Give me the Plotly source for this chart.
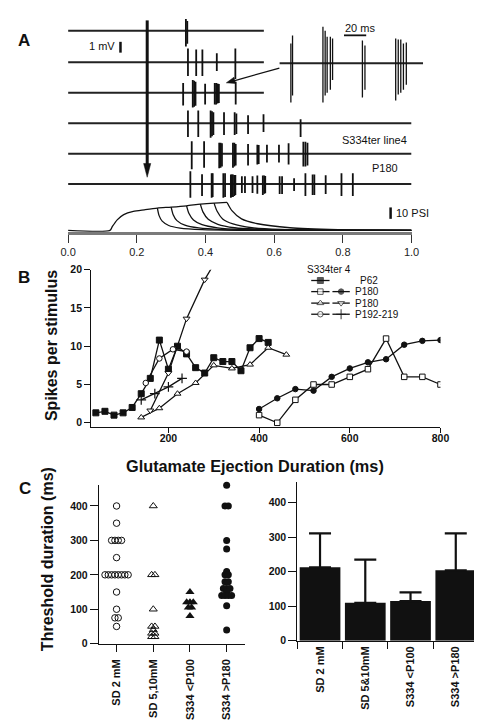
import plotly.graph_objects as go

W, H = 482, 722
FONT = "Liberation Sans, Arial, Helvetica, sans-serif"

# ---------------- Panel A data (time in s, amplitudes in mV) ----------------
rec_end_s = [0.57, 0.57, 0.57, 1.0, 1.0, 1.0]
rec1_t = [0.343, 0.347]
rec1_up = [1.09, 0.9]
rec1_dn = [1.45, 1.2]
rec2_t = [0.349, 0.373, 0.391, 0.433, 0.487]
rec2_up = [1.27, 1.18, 1.18, 0.82, 1.27]
rec2_dn = [1.27, 1.27, 1.27, 0.82, 1.55]
rec3_t = [0.335, 0.363, 0.367, 0.371, 0.399, 0.427, 0.431, 0.435, 0.439, 0.488]
rec3_up = [0.9, 1.18, 1.1, 1.0, 0.82, 0.9, 0.9, 0.85, 0.8, 1.0]
rec3_dn = [1.18, 1.36, 1.3, 1.2, 1.09, 1.09, 1.09, 1.0, 0.95, 1.09]
rec4_t = [0.349, 0.379, 0.415, 0.419, 0.423, 0.454, 0.485, 0.490, 0.524, 0.569, 0.677]
rec4_up = [1.18, 1.18, 1.18, 1.1, 1.0, 1.0, 1.0, 0.9, 0.73, 0.82, 0.36]
rec4_dn = [1.27, 1.27, 1.36, 1.2, 1.1, 1.09, 1.09, 1.0, 1.0, 0.82, 1.27]
rec5_t = [0.360, 0.396, 0.440, 0.444, 0.448, 0.480, 0.484, 0.488, 0.524, 0.551,
          0.555, 0.579, 0.614, 0.642, 0.685, 0.691, 0.697]
rec5_up = [1.14, 1.14, 1.0, 1.0, 0.95, 1.0, 1.0, 0.9, 0.9, 0.82, 0.8, 0.82, 0.82,
           0.95, 1.09, 1.09, 1.0]
rec5_dn = [1.45, 1.3, 1.36, 1.3, 1.2, 1.3, 1.2, 1.1, 1.09, 1.0, 0.95, 0.82, 0.82,
           1.0, 1.18, 1.18, 1.1]
rec6_t = [0.356, 0.390, 0.418, 0.421, 0.452, 0.457, 0.474, 0.477, 0.480, 0.484,
          0.487, 0.506, 0.515, 0.537, 0.551, 0.567, 0.571, 0.574, 0.616, 0.623,
          0.658, 0.691, 0.712, 0.717, 0.750, 0.796, 0.829]
rec6_up = [1.18, 0.91, 1.0, 1.0, 1.0, 1.0, 0.9, 0.9, 0.9, 0.85, 0.85, 0.73, 0.73,
           0.73, 0.8, 0.8, 0.8, 0.75, 0.73, 0.73, 0.55, 1.0, 0.9, 0.9, 0.82, 1.0, 1.0]
rec6_dn = [1.27, 1.09, 1.27, 1.2, 1.27, 1.2, 1.27, 1.2, 1.2, 1.1, 1.0, 0.82, 0.82,
           0.82, 0.9, 1.0, 0.9, 0.85, 0.91, 0.91, 0.64, 1.09, 1.0, 1.0, 0.91, 1.09, 1.09]

# inset (time in ms)
inset_len_ms = 130
inset_t = [10.4, 11.9, 39.4, 41.4, 43.2, 46.1, 48.1, 75.1, 77.4,
           105.2, 107.5, 109.8, 112.2, 114.8]
inset_up = [1.82, 2.55, 3.36, 3.0, 2.45, 2.45, 2.27, 2.09, 1.64,
            2.27, 2.18, 2.18, 1.82, 1.9]
inset_dn = [3.64, 3.0, 3.64, 3.0, 2.73, 2.45, 1.55, 3.18, 2.45,
            3.45, 2.9, 2.73, 2.45, 2.0]

# pressure ejection (PSI)
press_rise_t = [0.0, 0.122, 0.129, 0.143, 0.162, 0.19, 0.222, 0.26, 0.30, 0.345, 0.385, 0.425, 0.463]
press_rise_psi = [0, 0, 3.6, 9.7, 14.5, 17.5, 19.0, 20.6, 21.5, 22.7, 24.2, 25.2, 25.8]
decay1_t = [0.26, 0.265, 0.274, 0.293, 0.326, 0.39, 0.5, 1.0]
decay1_psi = [20.6, 13.6, 8.5, 4.5, 2.1, 0.6, 0.1, 0]
decay2_t = [0.30, 0.306, 0.317, 0.34, 0.38, 0.45, 0.56, 1.0]
decay2_psi = [21.5, 14.5, 9.0, 4.8, 2.2, 0.7, 0.1, 0]
decay3_t = [0.345, 0.352, 0.365, 0.39, 0.435, 0.51, 0.63, 1.0]
decay3_psi = [22.7, 15.5, 9.6, 5.2, 2.3, 0.7, 0.1, 0]
decay4_t = [0.385, 0.393, 0.408, 0.436, 0.485, 0.565, 0.69, 1.0]
decay4_psi = [24.2, 16.8, 10.2, 5.6, 2.4, 0.8, 0.15, 0]
decay5_t = [0.425, 0.434, 0.45, 0.48, 0.535, 0.62, 0.75, 1.0]
decay5_psi = [25.2, 17.6, 10.5, 5.9, 2.4, 0.8, 0.15, 0]
decay6_t = [0.463, 0.477, 0.505, 0.552, 0.646, 0.786, 0.9, 1.0]
decay6_psi = [25.8, 18.2, 10.6, 6.1, 2.4, 0.6, 0.1, 0]
a_ticks = [0.0, 0.2, 0.4, 0.6, 0.8, 1.0]
a_ticktext = ["0.0", "0.2", "0.4", "0.6", "0.8", "1.0"]

# ---------------- Panel B data ----------------
p62_x = [40, 60, 80, 100, 120, 140, 160, 180, 200, 220, 240, 260, 280, 300, 320, 340, 360, 380, 400, 420]
p62_y = [1.3, 1.5, 1.0, 1.3, 2.0, 3.8, 5.8, 10.8, 7.0, 10.0, 9.0, 7.2, 6.5, 8.5, 8.0, 8.0, 6.8, 9.8, 11.0, 10.5]
p180a_open_x = [400, 440, 480, 520, 560, 600, 640, 680, 720, 760, 800]
p180a_open_y = [1.0, 0.0, 3.0, 5.0, 5.0, 6.0, 7.0, 11.0, 6.0, 6.0, 5.0]
p180a_fill_x = [400, 440, 480, 520, 560, 600, 640, 680, 720, 760, 800]
p180a_fill_y = [1.8, 3.2, 4.4, 4.2, 6.0, 7.1, 7.9, 8.3, 10.2, 10.7, 10.8]
p180b_up_x = [140, 180, 220, 260, 300, 340, 380, 420, 460]
p180b_up_y = [0.7, 1.9, 3.8, 5.2, 7.5, 7.1, 7.6, 9.8, 8.9]
p180b_dn_x = [160, 200, 240, 280, 320]
p180b_dn_y = [1.6, 6.5, 13.6, 18.7, 22.7]
p192_circ_x = [150, 180, 210, 240]
p192_circ_y = [5.2, 8.4, 9.6, 9.3]
p192_plus_x = [140, 170, 200, 230]
p192_plus_y = [3.0, 3.8, 4.7, 5.8]
b_xticks = [200, 400, 600, 800]
b_yticks = [0, 5, 10, 15, 20]

# ---------------- Panel C data ----------------
c_groups = ["SD 2 mM", "SD 5,10mM", "S334 &lt;P100", "S334 &gt;P180"]
sd2_vals = [400, 350, 300, 300, 300, 300, 250, 200, 200, 200, 200, 200, 200, 200, 200, 150, 100, 75, 75, 50]
sd510_vals = [400, 200, 200, 100, 50, 50, 40, 30, 30, 20, 20]
s334_young_vals = [150, 120, 120, 120, 105, 105, 80]
s334_old_vals = [460, 400, 400, 300, 275, 210, 200, 200, 180, 180, 160, 160, 160, 150,
                 140, 140, 140, 140, 110, 40]
bar_groups = ["SD 2 mM", "SD 5&amp;10mM", "S334 &lt;P100", "S334 &gt;P180"]
bar_mean = [213, 110, 115, 204]
bar_sd = [98, 125, 25, 107]
c_yticks = [0, 100, 200, 300, 400]

# ---------------- helpers ----------------
def px_x(p):
    return p / W

def px_y(p):
    return 1 - p / H

MV_PER_PX = 1 / 11.0
A_BOTTOM = 221.5
row_px = [17, 49, 80, 111, 142, 173]
row_offsets = [(A_BOTTOM - r) * MV_PER_PX for r in row_px]
inset_offset = (A_BOTTOM - 50) * MV_PER_PX

def recording(ts, ups, dns, offset, t_end):
    bx = [0, t_end]
    by = [offset, offset]
    sx, sy = [], []
    for t, u, d in zip(ts, ups, dns):
        sx += [t, t, None]
        sy += [offset - d, offset + u, None]
    return bx, by, sx, sy

fig = go.Figure()
ink = "#111111"

recs = [(rec1_t, rec1_up, rec1_dn), (rec2_t, rec2_up, rec2_dn), (rec3_t, rec3_up, rec3_dn),
        (rec4_t, rec4_up, rec4_dn), (rec5_t, rec5_up, rec5_dn), (rec6_t, rec6_up, rec6_dn)]
for (ts, ups, dns), off, te in zip(recs, row_offsets, rec_end_s):
    bx, by, sx, sy = recording(ts, ups, dns, off, te)
    fig.add_trace(go.Scatter(x=bx, y=by, mode="lines", line=dict(color="#222", width=2),
                             xaxis="x", yaxis="y", hoverinfo="skip", showlegend=False))
    fig.add_trace(go.Scatter(x=sx, y=sy, mode="lines", line=dict(color=ink, width=1.8),
                             xaxis="x", yaxis="y", hoverinfo="skip", showlegend=False))

bx, by, sx, sy = recording(inset_t, inset_up, inset_dn, inset_offset, inset_len_ms)
fig.add_trace(go.Scatter(x=bx, y=by, mode="lines", line=dict(color="#222", width=2),
                         xaxis="x2", yaxis="y", hoverinfo="skip", showlegend=False))
fig.add_trace(go.Scatter(x=sx, y=sy, mode="lines", line=dict(color=ink, width=1.3),
                         xaxis="x2", yaxis="y", hoverinfo="skip", showlegend=False))

for tx, py in [(press_rise_t, press_rise_psi), (decay1_t, decay1_psi), (decay2_t, decay2_psi),
               (decay3_t, decay3_psi), (decay4_t, decay4_psi), (decay5_t, decay5_psi),
               (decay6_t, decay6_psi)]:
    fig.add_trace(go.Scatter(x=tx, y=py, mode="lines",
                             line=dict(color=ink, width=1.3, shape="spline", smoothing=0.7),
                             xaxis="x", yaxis="y2", hoverinfo="skip", showlegend=False))

# ---- Panel B ----
def bseries(x, y, symbol, fill, size=6, lw=1.0):
    return go.Scatter(x=x, y=y, mode="lines+markers", xaxis="x3", yaxis="y3",
                      line=dict(color=ink, width=1.3),
                      marker=dict(symbol=symbol, size=size, color=fill,
                                  line=dict(color=ink, width=lw)),
                      hoverinfo="skip", showlegend=False)

fig.add_trace(bseries(p62_x, p62_y, "square", ink, 6))
fig.add_trace(bseries(p180a_open_x, p180a_open_y, "square", "white", 5.5))
fig.add_trace(bseries(p180a_fill_x, p180a_fill_y, "circle", ink, 5.5))
fig.add_trace(bseries(p180b_up_x, p180b_up_y, "triangle-up", "white", 6))
fig.add_trace(bseries(p180b_dn_x, p180b_dn_y, "triangle-down", "white", 6))
fig.add_trace(bseries(p192_circ_x, p192_circ_y, "circle", "white", 5.5))
fig.add_trace(bseries(p192_plus_x, p192_plus_y, "cross-thin", ink, 7, 1.2))

# ---- Panel C left (scatter) ----
def swarm(vals, center, step):
    counts = {}
    for v in vals:
        counts[v] = counts.get(v, 0) + 1
    seen = {}
    xs = []
    for v in vals:
        i = seen.get(v, 0)
        seen[v] = i + 1
        xs.append(center + (i - (counts[v] - 1) / 2) * step)
    return xs

c_sets = [(sd2_vals, "circle-open", 6.5, 1.0),
          (sd510_vals, "triangle-up-open", 7, 1.0),
          (s334_young_vals, "triangle-up", 8, 0),
          (s334_old_vals, "circle", 7, 0)]
for k, (vals, sym, sz, lw) in enumerate(c_sets):
    fig.add_trace(go.Scatter(x=swarm(vals, k, 0.09), y=vals, mode="markers",
                             xaxis="x4", yaxis="y4", cliponaxis=False,
                             marker=dict(symbol=sym, size=sz, color=ink,
                                         line=dict(color=ink, width=lw)),
                             hoverinfo="skip", showlegend=False))

# ---- Panel C right (bars) ----
fig.add_trace(go.Bar(x=list(range(len(bar_groups))), y=bar_mean, width=0.9,
                     marker=dict(color=ink, line=dict(width=0)),
                     error_y=dict(type="data", symmetric=False, array=bar_sd,
                                  arrayminus=[0] * len(bar_sd), color=ink,
                                  thickness=2.2, width=11),
                     xaxis="x5", yaxis="y5", hoverinfo="skip", showlegend=False))

# ---- B legend samples (decoration axis, pixel coords) ----
leg_rows = [271, 282.3, 294, 305.3]
leg_items = [
    (0, 0, "square", ink, 6, 1.0),
    (1, 0, "square", "white", 5.5, 1.0),
    (1, 1, "circle", ink, 5.5, 1.0),
    (2, 0, "triangle-up", "white", 6, 1.0),
    (2, 1, "triangle-down", "white", 6, 1.0),
    (3, 0, "circle", "white", 5.5, 1.0),
    (3, 1, "cross-thin", ink, 7, 1.2),
]
leg_cols = [(306, 325), (328, 346)]
for r, c, sym, fill, sz, lw in leg_items:
    x0, x1 = leg_cols[c]
    yv = leg_rows[r]
    fig.add_trace(go.Scatter(x=[x0, (x0 + x1) / 2, x1], y=[yv, yv, yv], mode="lines+markers",
                             xaxis="x6", yaxis="y6", line=dict(color=ink, width=1.3),
                             marker=dict(symbol=sym, size=[0, sz, 0], color=fill,
                                         line=dict(color=ink, width=lw)),
                             hoverinfo="skip", showlegend=False))

# ---------------- layout ----------------
tickfont_b = dict(family=FONT, size=10.5, color=ink, weight="bold")
common_ax = dict(showgrid=False, zeroline=False, fixedrange=True)

layout = dict(
    width=W, height=H, margin=dict(l=0, r=0, t=0, b=0),
    paper_bgcolor="white", plot_bgcolor="rgba(0,0,0,0)",
    font=dict(family=FONT, color=ink),
    showlegend=False,
    xaxis=dict(domain=[px_x(54), px_x(410)], range=[0, 1], anchor="y",
               showline=True, linecolor="#7a7a7a", linewidth=3,
               ticks="outside", ticklen=8, tickwidth=1, tickcolor="#333",
               tickvals=a_ticks, ticktext=a_ticktext,
               tickfont=dict(family=FONT, size=11, color="#222"), **common_ax),
    yaxis=dict(domain=[px_y(A_BOTTOM), 1], range=[0, A_BOTTOM * MV_PER_PX], anchor="x",
               visible=False, **common_ax),
    yaxis2=dict(overlaying="y", range=[-1.5 / 1.1, 220 / 1.1], anchor="x",
                visible=False, **common_ax),
    xaxis2=dict(domain=[px_x(273), px_x(422)], range=[0, inset_len_ms], anchor="y",
                visible=False, **common_ax),
    xaxis3=dict(domain=[px_x(78), px_x(440)], range=[29.8, 800], anchor="y3",
                showline=True, linecolor=ink, linewidth=1.3,
                ticks="outside", ticklen=5, tickcolor=ink, tickvals=b_xticks,
                ticklabelstandoff=-4,
                tickfont=tickfont_b, **common_ax),
    yaxis3=dict(domain=[px_y(420), px_y(260)], range=[-0.553, 20], anchor="x3",
                showline=True, linecolor=ink, linewidth=1.3,
                ticks="outside", ticklen=6, tickcolor=ink, tickvals=b_yticks,
                tickfont=tickfont_b, **common_ax),
    xaxis4=dict(domain=[px_x(86), px_x(237)], range=[-0.48, 3.49], anchor="y4",
                showline=True, linecolor=ink, linewidth=1.3,
                ticks="outside", ticklen=7, tickcolor=ink, tickvals=[0, 1, 2, 3],
                ticktext=c_groups, tickangle=-90, ticklabelstandoff=3,
                tickfont=dict(family=FONT, size=11, color=ink, weight="bold"), **common_ax),
    yaxis4=dict(domain=[px_y(640.3), px_y(479.3)], range=[0, 460], anchor="x4",
                showline=True, linecolor=ink, linewidth=1.3,
                ticks="outside", ticklen=8, tickcolor=ink, tickvals=c_yticks,
                tickfont=tickfont_b, **common_ax),
    xaxis5=dict(domain=[px_x(291.7), px_x(479.3)], range=[-0.5, 3.5], anchor="y5",
                showline=True, linecolor=ink, linewidth=1.3,
                ticks="", tickvals=[0, 1, 2, 3], ticktext=bar_groups, tickangle=-90,
                ticklen=7,
                minor=dict(tickvals=[-0.5, 0.5, 1.5, 2.5, 3.5], ticks="outside",
                           ticklen=7, tickcolor=ink, tickwidth=1.3),
                tickfont=dict(family=FONT, size=11, color=ink, weight="bold"), **common_ax),
    yaxis5=dict(domain=[px_y(637.3), px_y(476)], range=[0, 460], anchor="x5",
                showline=True, linecolor=ink, linewidth=1.3,
                ticks="outside", ticklen=8, tickcolor=ink, tickvals=c_yticks,
                tickfont=tickfont_b, **common_ax),
    xaxis6=dict(domain=[0, 1], range=[0, W], anchor="y6", visible=False, **common_ax),
    yaxis6=dict(domain=[0, 1], range=[H, 0], anchor="x6", visible=False, **common_ax),
)
fig.update_layout(**layout)

def txt(x, y, s, size=11, bold=False, xa="center", ya="middle", angle=0):
    fig.add_annotation(x=x, y=y, xref="x6", yref="y6", text=s, showarrow=False,
                       xanchor=xa, yanchor=ya, textangle=angle,
                       font=dict(family=FONT, size=size, color=ink,
                                 weight="bold" if bold else "normal"))

txt(8, 26.5, "A", 17, True)
txt(8, 267.5, "B", 17, True)
txt(9, 482.5, "C", 17, True)
txt(105, 33, "1 mV", 11, xa="right")
txt(356.5, 14, "20 ms", 11)
txt(407, 128, "S334ter line4", 11, xa="right")
txt(382.5, 157, "P180", 11)
txt(392, 202.5, "10 PSI", 11, xa="left")
txt(300, 260, "S334ter 4", 10, xa="left")
txt(354, 271, "P62", 10, xa="left")
txt(349, 282.3, "P180", 10, xa="left")
txt(349, 294, "P180", 10, xa="left")
txt(349, 305.3, "P192-219", 10, xa="left")
txt(37.5, 337.5, "Spikes per stimulus", 16, True, angle=-90)
txt(247.5, 460, "Glutamate Ejection Duration (ms)", 16.3, True)
txt(32.5, 554, "Threshold duration (ms)", 16, True, angle=-90)

def seg(x0, y0, x1, y1, w):
    fig.add_shape(type="line", xref="x6", yref="y6", x0=x0, y0=y0, x1=x1, y1=y1,
                  line=dict(color=ink, width=w))

# scale bars
seg(108.3, 28.3, 108.3, 39.3, 2.5)
seg(340, 21.7, 363, 21.7, 1.8)
seg(388.3, 196.7, 388.3, 208.3, 2.5)
# big vertical arrow
seg(136, 6.5, 136, 154, 3)
fig.add_shape(type="path", xref="x6", yref="y6",
              path="M 132.3 152 L 139.7 152 L 136 166 Z",
              fillcolor=ink, line=dict(color=ink, width=0.5))
# inset arrow
seg(273, 55, 225, 68.2, 1.2)
fig.add_shape(type="path", xref="x6", yref="y6",
              path="M 218 70 L 227.6 70.7 L 225.9 64.3 Z",
              fillcolor=ink, line=dict(color=ink, width=0.5))

fig.write_html("out.html")
